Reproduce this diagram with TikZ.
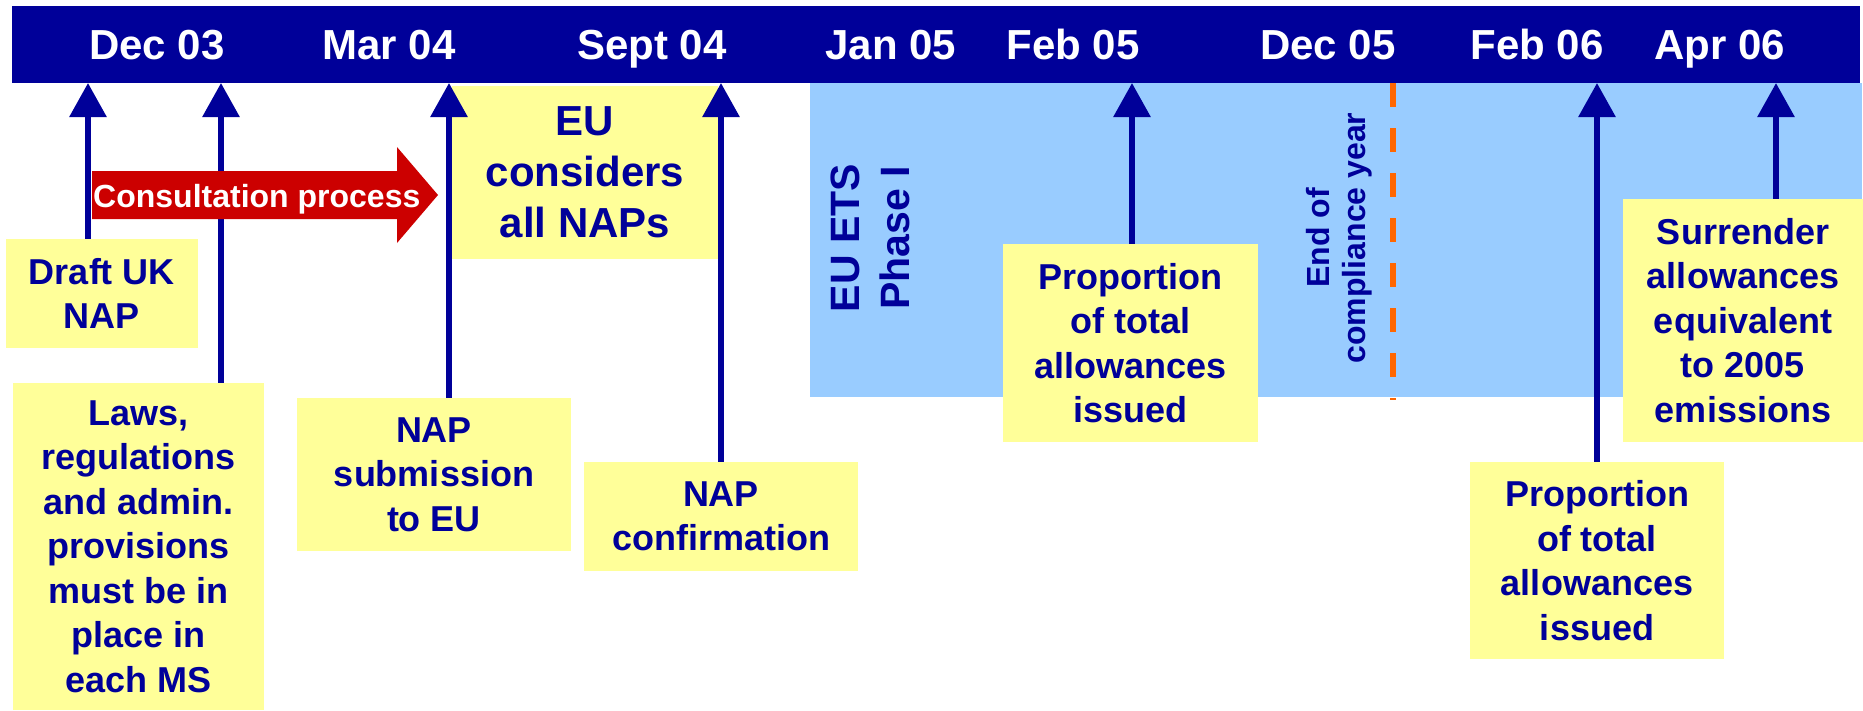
\documentclass[tikz,border=0pt]{standalone}
\usepackage{fontspec}
\setmainfont{Liberation Sans}
\usepackage{tikz}
\usetikzlibrary{arrows.meta,positioning,calc}
\definecolor{navy}{HTML}{000099}
\definecolor{notefill}{HTML}{FFFF99}
\definecolor{phasefill}{HTML}{99CCFF}
\definecolor{eoyline}{HTML}{FF6600}
\definecolor{consult}{HTML}{CC0000}

\begin{document}
\begin{tikzpicture}[
    x=1pt,y=-1pt,
    notebox/.style={fill=notefill,text=navy,inner sep=0pt,align=center,font=\bfseries\fontsize{36}{44.5}\selectfont},
    datelbl/.style={text=white,anchor=base,font=\bfseries\fontsize{42}{50}\selectfont},
    evt/.style={-{Triangle[length=34pt,width=36pt]},line width=6pt,draw=navy}
]
\useasboundingbox (0,0) rectangle (1863,710);

% phase I band and timeline bar
\fill[phasefill] (810,83) rectangle (1862,397);
\node[fill=navy,inner sep=0pt,minimum width=1848pt,minimum height=77pt] (bar) at (936,44.5) {};

\node[datelbl] (dec03) at (157,59) {Dec 03};
\node[datelbl] (mar04) at (389,59) {Mar 04};
\node[datelbl] (sep04) at (652,59) {Sept 04};
\node[datelbl] (jan05) at (891,59) {Jan 05};
\node[datelbl] (feb05) at (1073,59) {Feb 05};
\node[datelbl] (dec05) at (1328,59) {Dec 05};
\node[datelbl] (feb06) at (1537,59) {Feb 06};
\node[datelbl] (apr06) at (1720,59) {Apr 06};

% where the arrows meet the bar
\coordinate (tDraft) at (88,83);
\coordinate (tLaws) at (221,83);
\coordinate (tSubmit) at (449,83);
\coordinate (tConfirm) at (721,83);
\coordinate (tIssue1) at (1132,83);
\coordinate (tIssue2) at (1597,83);
\coordinate (tSurrender) at (1776,83);
\coordinate (eoy) at (1393,400);

\draw[eoyline,line width=6pt,dash pattern=on 24pt off 21pt] (eoy |- bar.south) -- (eoy);

\node[rotate=90,text=navy,align=center,font=\bfseries\fontsize{41}{50}\selectfont] (phase) at (870,238) {EU ETS\\Phase I};
\node[rotate=90,text=navy,align=center,font=\bfseries\fontsize{32}{36}\selectfont] (eoytxt) at (1339,238) {End of\\compliance year};

\node[notebox,minimum width=192pt,minimum height=109pt] (draft) at (102,293.5) {Draft UK\\NAP};
\node[notebox,minimum width=251pt,minimum height=327pt] (laws) at (138.5,546.5) {Laws,\\regulations\\and admin.\\provisions\\must be in\\place in\\each MS};
\node[notebox,minimum width=274pt,minimum height=153pt] (submit) at (434,474.5) {NAP\\submission\\to EU};
\node[notebox,minimum width=274pt,minimum height=109pt] (confirm) at (721,516.5) {NAP\\confirmation};
\node[notebox,minimum width=266pt,minimum height=173pt,font=\bfseries\fontsize{42}{51}\selectfont] (considers) at (585,172.5) {EU\\considers\\all NAPs};
\node[notebox,minimum width=255pt,minimum height=198pt] (issue1) at (1130.5,343) {Proportion\\of total\\allowances\\issued};
\node[notebox,minimum width=254pt,minimum height=197pt] (issue2) at (1597,560.5) {Proportion\\of total\\allowances\\issued};
\node[notebox,minimum width=240pt,minimum height=243pt] (surrender) at (1743,320.5) {Surrender\\allowances\\equivalent\\to 2005\\emissions};

\draw[evt] (draft.north -| tDraft) -- (tDraft);
\draw[evt] (laws.north -| tLaws) -- (tLaws);
\draw[evt] (submit.north -| tSubmit) -- (tSubmit);
\draw[evt] (confirm.north) -- (tConfirm);
\draw[evt] (issue1.north -| tIssue1) -- (tIssue1);
\draw[evt] (issue2.north) -- (tIssue2);
\draw[evt] (surrender.north -| tSurrender) -- (tSurrender);

% consultation arrow
\fill[consult] (92,171) -- (397,171) -- (397,147) -- (438,195) -- (397,243) -- (397,219) -- (92,219) -- cycle;
\node[anchor=base west,inner sep=0pt,text=white,font=\bfseries\fontsize{32}{38}\selectfont] (consultation) at (93,207) {Consultation process};
\end{tikzpicture}
\end{document}
